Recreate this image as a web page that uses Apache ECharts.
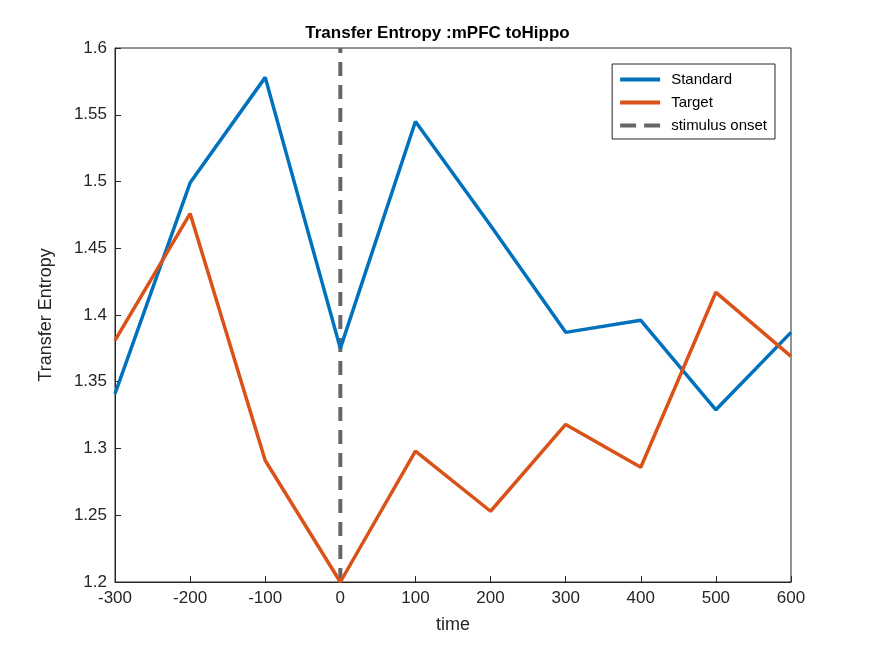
<!DOCTYPE html>
<html><head><meta charset="utf-8">
<script src="https://cdn.jsdelivr.net/npm/echarts@6/dist/echarts.min.js"></script>
<style>body{margin:0;background:#fff}#main{width:875px;height:656px}</style>
</head><body><div id="main"></div>
<script>
var times = [-300, -200, -100, 0, 100, 200, 300, 400, 500, 600];
var standard = [1.341, 1.499, 1.578, 1.375, 1.545, 1.467, 1.387, 1.396, 1.329, 1.387];
var target = [1.381, 1.476, 1.291, 1.2, 1.298, 1.253, 1.318, 1.286, 1.417, 1.369];
var onset = [[0, 1.2], [0, 1.6]];

function pairs(ys) { return times.map(function (t, i) { return [t, ys[i]]; }); }

var chart = echarts.init(document.getElementById('main'));
var txt = '#262626';
var solidIcon = 'path://M0,0H20V2H0Z';
var dashIcon = 'path://M0,0H8V2H0ZM12,0H20V2H12Z';
chart.setOption({
    animation: false,
    title: {text: 'Transfer Entropy :mPFC toHippo', left: 'center', top: 20,
        textStyle: {fontSize: 17, fontWeight: 'bold', color: '#000', fontFamily: 'Liberation Sans'}},
    legend: {
        orient: 'vertical', right: 100, top: 64, itemGap: 8, itemWidth: 52, itemHeight: 4,
        borderColor: '#262626', borderWidth: 1, padding: [8, 8, 6, 8],
        textStyle: {fontSize: 15, color: '#000', fontFamily: 'Liberation Sans'},
        data: [
            {name: 'Standard', icon: solidIcon},
            {name: 'Target', icon: solidIcon},
            {name: 'stimulus onset', icon: dashIcon}
        ]
    },
    grid: {left: 115, right: 84, top: 48, bottom: 74, show: true, borderColor: '#262626', borderWidth: 1},
    xAxis: {
        type: 'value', min: -300, max: 600, interval: 100, name: 'time',
        nameLocation: 'middle', nameGap: 34,
        nameTextStyle: {fontSize: 18, color: txt, fontFamily: 'Liberation Sans'},
        axisLine: {onZero: false, lineStyle: {color: txt}},
        axisTick: {inside: true, length: 6, lineStyle: {color: txt}},
        axisLabel: {fontSize: 17, color: txt, fontFamily: 'Liberation Sans'},
        splitLine: {show: false}
    },
    yAxis: {
        type: 'value', min: 1.2, max: 1.6, interval: 0.05, name: 'Transfer Entropy',
        nameLocation: 'middle', nameGap: 60,
        nameTextStyle: {fontSize: 18, color: txt, fontFamily: 'Liberation Sans'},
        axisLine: {show: true, onZero: false, lineStyle: {color: txt}},
        axisTick: {show: true, inside: true, length: 6, lineStyle: {color: txt}},
        axisLabel: {fontSize: 17, color: txt, fontFamily: 'Liberation Sans',
            formatter: function (v) { return +v.toFixed(2) + ''; }},
        splitLine: {show: false}
    },
    series: [
        {name: 'stimulus onset', type: 'line', data: onset, symbol: 'none', z: 1,
            lineStyle: {color: '#666666', width: 4, type: [14, 9]}, itemStyle: {color: '#666666'}},
        {name: 'Standard', type: 'line', data: pairs(standard), symbol: 'none', z: 2,
            lineStyle: {color: '#0072BD', width: 3.5}, itemStyle: {color: '#0072BD'}},
        {name: 'Target', type: 'line', data: pairs(target), symbol: 'none', z: 2,
            lineStyle: {color: '#D95319', width: 3.5}, itemStyle: {color: '#D95319'}}
    ]
});
</script></body></html>
